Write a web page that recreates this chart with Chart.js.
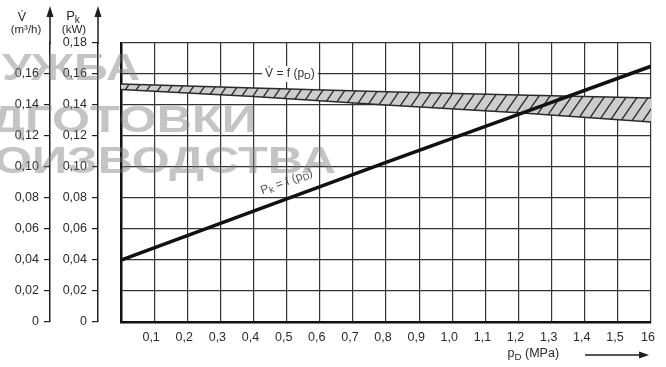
<!DOCTYPE html>
<html>
<head>
<meta charset="utf-8">
<script src="https://cdn.jsdelivr.net/npm/chart.js@4.4.1/dist/chart.umd.min.js"></script>
<style>
  html, body { margin: 0; padding: 0; background: #fff; }
  #wrap { width: 666px; height: 367px; }
</style>
</head>
<body>
<div id="wrap"><canvas id="chart" width="666" height="367"></canvas></div>
<script>
// values
const pressures = [0, 0.4, 0.8, 1.2, 1.6];               // p_D (MPa)
const powerKw = [0.040, 0.0715, 0.103, 0.134, 0.165];     // P_k = f(p_D)
const flowUpper = [0.1535, 0.151, 0.1485, 0.1465, 0.1445]; // V = f(p_D), upper edge of band
const flowLower = [0.150, 0.1455, 0.140, 0.135, 0.129];    // V = f(p_D), lower edge of band

const xTickLabels = ['', '0,1', '0,2', '0,3', '0,4', '0,5', '0,6', '0,7', '0,8', '0,9',
                     '1,0', '1,1', '1,2', '1,3', '1,4', '1,5', '16'];
const pkTickLabels = ['0', '0,02', '0,04', '0,06', '0,08', '0,10', '0,12', '0,14', '0,16', '0,18'];
const flowTickLabels = ['0', '0,02', '0,04', '0,06', '0,08', '0,10', '0,12', '0,14', '0,16'];

const FONT = '"Liberation Sans", Arial, sans-serif';
Chart.defaults.font.family = FONT;
Chart.defaults.font.size = 12.5;
Chart.defaults.color = '#2a2a2a';

const ctx = document.getElementById('chart').getContext('2d');

// grey band with "/" hatching
function hatch() {
    const c = document.createElement('canvas');
    c.width = 11; c.height = 16;
    const g = c.getContext('2d');
    g.fillStyle = '#cdcdcd';
    g.fillRect(0, 0, 11, 16);
    g.strokeStyle = '#2b2b2b';
    g.lineWidth = 1.3;
    g.beginPath();
    g.moveTo(0, 16); g.lineTo(11, 0);
    g.moveTo(-2, 2.9); g.lineTo(2, -2.9);
    g.moveTo(9, 18.9); g.lineTo(13, 13.1);
    g.stroke();
    return ctx.createPattern(c, 'repeat');
}

function toPoints(ys) {
    return pressures.map((p, i) => ({ x: p, y: ys[i] }));
}

// text with subscript parts: [[text, isSub], ...]
function richText(c, parts, x, y, align, size) {
    let w = 0;
    parts.forEach(([t, sub]) => {
        c.font = (sub ? size * 0.78 : size) + 'px ' + FONT;
        w += c.measureText(t).width;
    });
    let cx = align === 'center' ? x - w / 2 : (align === 'right' ? x - w : x);
    c.textAlign = 'left';
    parts.forEach(([t, sub]) => {
        c.font = (sub ? size * 0.78 : size) + 'px ' + FONT;
        c.fillText(t, cx, y + (sub ? size * 0.22 : 0));
        cx += c.measureText(t).width;
    });
    return w;
}

function upArrow(c, x, yBottom) {
    c.save();
    c.strokeStyle = '#1e1e1e';
    c.fillStyle = '#1e1e1e';
    c.lineWidth = 1.5;
    c.beginPath();
    c.moveTo(x, yBottom);
    c.lineTo(x, 15);
    c.stroke();
    c.beginPath();
    c.moveTo(x, 6);
    c.lineTo(x - 3.5, 17);
    c.lineTo(x + 3.5, 17);
    c.closePath();
    c.fill();
    c.restore();
}

const decorations = {
    id: 'decorations',
    afterDatasetsDraw(chart) {
        const c = chart.ctx;
        const x = chart.scales.x, y = chart.scales.y;
        c.save();
        c.fillStyle = '#333';
        c.textBaseline = 'middle';

        // V = f(pD) label sitting on the 0,16 grid line
        const vx = x.getPixelForValue(0.51), vy = y.getPixelForValue(0.16);
        const vParts = [['V\u0307 = f (p', false], ['D', true], [')', false]];
        let w = 0;
        vParts.forEach(([t, sub]) => { c.font = (sub ? 9.4 : 12) + 'px ' + FONT; w += c.measureText(t).width; });
        c.fillStyle = '#fff';
        c.fillRect(vx - w / 2 - 3, vy - 8, w + 6, 16);
        c.fillStyle = '#333';
        richText(c, vParts, vx, vy, 'center', 12);

        // Pk = f(pD) label along the line
        const ang = Math.atan2(y.getPixelForValue(powerKw[4]) - y.getPixelForValue(powerKw[0]),
                               x.getPixelForValue(pressures[4]) - x.getPixelForValue(pressures[0]));
        c.translate(x.getPixelForValue(0.5), y.getPixelForValue(0.0905));
        c.rotate(ang);
        c.fillStyle = '#555';
        richText(c, [['P', false], ['k', true], [' = f (p', false], ['D', true], [')', false]], 0, 0, 'center', 12);
        c.restore();
    },
    afterDraw(chart) {
        const c = chart.ctx;
        const area = chart.chartArea;
        const yV = chart.scales.yV, yP = chart.scales.yP;
        c.save();

        // axis arrows and titles
        upArrow(c, yV.right, area.top + 1);
        upArrow(c, yP.right, area.top + 1);
        c.fillStyle = '#2a2a2a';
        c.textBaseline = 'alphabetic';
        c.textAlign = 'center';
        c.font = '12.5px ' + FONT;
        c.fillText('V\u0307', yV.right - 28, 21);
        c.font = '11.5px ' + FONT;
        c.fillText('(m\u00b3/h)', yV.right - 24, 33);
        richText(c, [['P', false], ['k', true]], yP.right - 25, 20, 'center', 13);
        c.font = '11.5px ' + FONT;
        c.textAlign = 'center';
        c.fillText('(kW)', yP.right - 24, 33);

        // x axis title with arrow
        const ax1 = area.right - 2, ax0 = ax1 - 64, ay = 355;
        richText(c, [['p', false], ['D', true], [' (MPa)', false]], ax0 - 26, 357, 'right', 12.5);
        c.strokeStyle = '#1e1e1e';
        c.fillStyle = '#1e1e1e';
        c.lineWidth = 1.3;
        c.beginPath();
        c.moveTo(ax0, ay); c.lineTo(ax1 - 8, ay);
        c.stroke();
        c.beginPath();
        c.moveTo(ax1, ay); c.lineTo(ax1 - 10, ay - 3.5); c.lineTo(ax1 - 10, ay + 3.5);
        c.closePath();
        c.fill();

        // grey watermark stamp across the upper left
        const rows = [
            { full: 'СЛУЖБА', tail: 'УЖБА', left: 2, right: 140, base: 80 },
            { full: 'ПОДГОТОВКИ', tail: 'ГОТОВКИ', left: 25, right: 257, base: 132 },
            { full: 'ПРОИЗВОДСТВА', tail: 'ИЗВОДСТВА', left: 32, right: 336, base: 173 }
        ];
        c.fillStyle = 'rgba(125,125,125,0.45)';
        c.font = 'bold 36px ' + FONT;
        c.textAlign = 'right';
        rows.forEach(r => {
            const sx = (r.right - r.left) / c.measureText(r.tail).width;
            c.save();
            c.translate(r.right, r.base);
            c.scale(sx, 1);
            c.fillText(r.full, 0, 0);
            c.restore();
        });
        c.restore();
    }
};

new Chart(ctx, {
    type: 'line',
    data: {
        datasets: [
            {
                label: 'Pk = f(pD)',
                data: toPoints(powerKw),
                borderColor: '#111',
                borderWidth: 3.5,
                pointRadius: 0,
                fill: false
            },
            {
                label: 'V = f(pD) upper',
                data: toPoints(flowUpper),
                borderColor: '#2a2a2a',
                borderWidth: 1.5,
                pointRadius: 0,
                fill: false
            },
            {
                label: 'V = f(pD) lower',
                data: toPoints(flowLower),
                borderColor: '#2a2a2a',
                borderWidth: 1.5,
                pointRadius: 0,
                fill: '-1',
                backgroundColor: hatch()
            }
        ]
    },
    options: {
        responsive: false,
        animation: false,
        devicePixelRatio: 1,
        layout: { padding: { top: 43, right: 11, bottom: 0, left: 0 } },
        plugins: { legend: { display: false }, tooltip: { enabled: false } },
        scales: {
            x: {
                type: 'linear',
                min: 0,
                max: 1.6,
                afterFit: s => { s.height = 45; },
                border: { display: true, color: '#111', width: 2.5 },
                grid: { color: '#333', lineWidth: 1.2, drawTicks: false },
                ticks: {
                    stepSize: 0.1,
                    autoSkip: false,
                    maxRotation: 0,
                    padding: 8,
                    labelOffset: -3,
                    color: '#2a2a2a',
                    callback: (v, i) => xTickLabels[i]
                }
            },
            y: {
                position: 'left',
                weight: 0,
                min: 0,
                max: 0.18,
                afterFit: s => { s.width = 23; },
                border: { display: true, color: '#111', width: 2.5 },
                grid: { color: '#333', lineWidth: 1.2, drawTicks: false },
                ticks: { stepSize: 0.02, display: false }
            },
            yP: {
                position: 'left',
                weight: 1,
                min: 0,
                max: 0.18,
                afterFit: s => { s.width = 48; },
                border: { display: true, color: '#1e1e1e', width: 1.5 },
                grid: { drawOnChartArea: false, drawTicks: true, tickLength: 6, color: '#1e1e1e', lineWidth: 1.2 },
                ticks: { stepSize: 0.02, padding: 5, color: '#2a2a2a', callback: (v, i) => pkTickLabels[i] }
            },
            yV: {
                position: 'left',
                weight: 2,
                min: 0,
                max: 0.18,
                afterFit: s => { s.width = 50; },
                afterBuildTicks: s => { s.ticks = s.ticks.filter(t => t.value < 0.17); },
                border: { display: true, color: '#1e1e1e', width: 1.5 },
                grid: { drawOnChartArea: false, drawTicks: true, tickLength: 6, color: '#1e1e1e', lineWidth: 1.2 },
                ticks: { stepSize: 0.02, padding: 5, color: '#2a2a2a', callback: (v, i) => flowTickLabels[i] }
            }
        }
    },
    plugins: [decorations]
});
</script>
</body>
</html>
